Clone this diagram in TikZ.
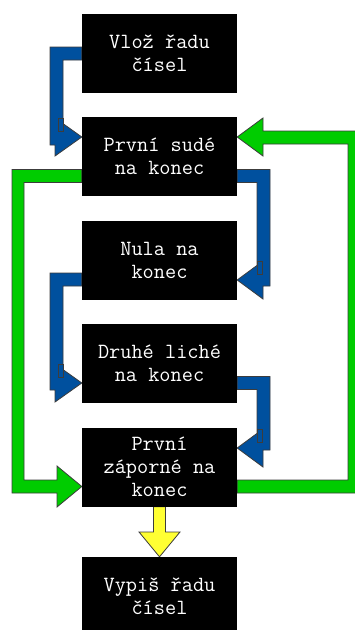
\documentclass[tikz,border=0pt]{standalone}
\usetikzlibrary{calc}
\pgfdeclarelayer{bg}
\pgfsetlayers{bg,main}
\definecolor{arrblue}{RGB}{0,80,158}
\definecolor{arrgreen}{RGB}{0,204,0}
\definecolor{arryellow}{RGB}{255,255,51}
\definecolor{edgegray}{RGB}{60,60,60}
\tikzset{
  stepbox/.style={fill=black, text=white, minimum width=155pt, minimum height=79pt,
    inner sep=0pt, align=center, font=\ttfamily\fontsize{21.7}{23}\selectfont},
  blockarrow/.style={draw=edgegray, line width=0.8pt, line join=miter},
  bluearrow/.style={blockarrow, fill=arrblue},
  greenarrow/.style={blockarrow, fill=arrgreen},
  yellowarrow/.style={blockarrow, fill=arryellow},
}
\begin{document}
\begin{tikzpicture}[x=1pt,y=-1pt]
\useasboundingbox (0,0) rectangle (355,630);
\node[stepbox] (b1) at (159.5,53.5) {Vlož řadu\\čísel};
\node[stepbox] (b2) at (159.5,156.5) {První sudé\\na konec};
\node[stepbox] (b3) at (159.5,260) {Nula na\\konec};
\node[stepbox] (b4) at (159.5,363.5) {Druhé liché\\na konec};
\node[stepbox] (b5) at (159.5,467) {První\\záporné na\\konec};
\node[stepbox] (b6) at (159.5,596.5) {Vypiš řadu\\čísel};
\begin{pgfonlayer}{bg}
% blue 1: b1 -> b2 (left)
\draw[bluearrow] ($(b1.west)+(0,-6.5)$) -- (50,47) -- (50,145) -- (55,145) -- (55,156)
  -- ($(b2.west)+(0,-19.5)$) -- (63,123.6) -- (63,60) -- ($(b1.west)+(0,6.5)$) -- cycle;
\draw[bluearrow, line width=0.6pt] (58,118) rectangle (63,131);
% blue 2: b2 -> b3 (right)
\draw[bluearrow] ($(b2.east)+(0,13)$) -- (270,169.5) -- (270,286) -- (263,286) -- (263,299)
  -- ($(b3.east)+(0,20)$) -- (257,265.4) -- (257,182.5) -- ($(b2.east)+(0,26)$) -- cycle;
\draw[bluearrow, line width=0.6pt] (257,261) rectangle (262,274);
% blue 3: b3 -> b4 (left)
\draw[bluearrow] ($(b3.west)+(0,13)$) -- (50,273) -- (50,390) -- (55,390) -- (55,402)
  -- ($(b4.west)+(0,19.5)$) -- (63,369.6) -- (63,286) -- ($(b3.west)+(0,26)$) -- cycle;
\draw[bluearrow, line width=0.6pt] (58,364) rectangle (63,377);
% blue 4: b4 -> b5 (right)
\draw[bluearrow] ($(b4.east)+(0,13)$) -- (270,376.5) -- (270,450) -- (263,450) -- (263,467)
  -- ($(b5.east)+(0,-19)$) -- (257,433.4) -- (257,389.5) -- ($(b4.east)+(0,26)$) -- cycle;
\draw[bluearrow, line width=0.6pt] (257,429) rectangle (262,442);
% green left: b2 -> b5
\draw[greenarrow] ($(b2.west)+(0,13)$) -- (12,169.5) -- (12,493) -- (57,493) -- (57,507)
  -- ($(b5.west)+(0,19.5)$) -- (57,466) -- (57,480) -- (24,480) -- (24,182.5)
  -- ($(b2.west)+(0,26)$) -- cycle;
% green right: b5 -> b2
\draw[greenarrow] ($(b5.east)+(0,13)$) -- (348,480) -- (348,144) -- (263,144) -- (263,156)
  -- ($(b2.east)+(0,-19.5)$) -- (263,118) -- (263,131) -- (361,131) -- (361,493)
  -- ($(b5.east)+(0,26)$) -- cycle;
% yellow: b5 -> b6
\draw[yellowarrow] ($(b5.south)+(-6,0)$) -- (153.5,532) -- (139,532) -- (b6.north)
  -- (180,532) -- (165.5,532) -- ($(b5.south)+(6,0)$) -- cycle;
\end{pgfonlayer}
\end{tikzpicture}
\end{document}
